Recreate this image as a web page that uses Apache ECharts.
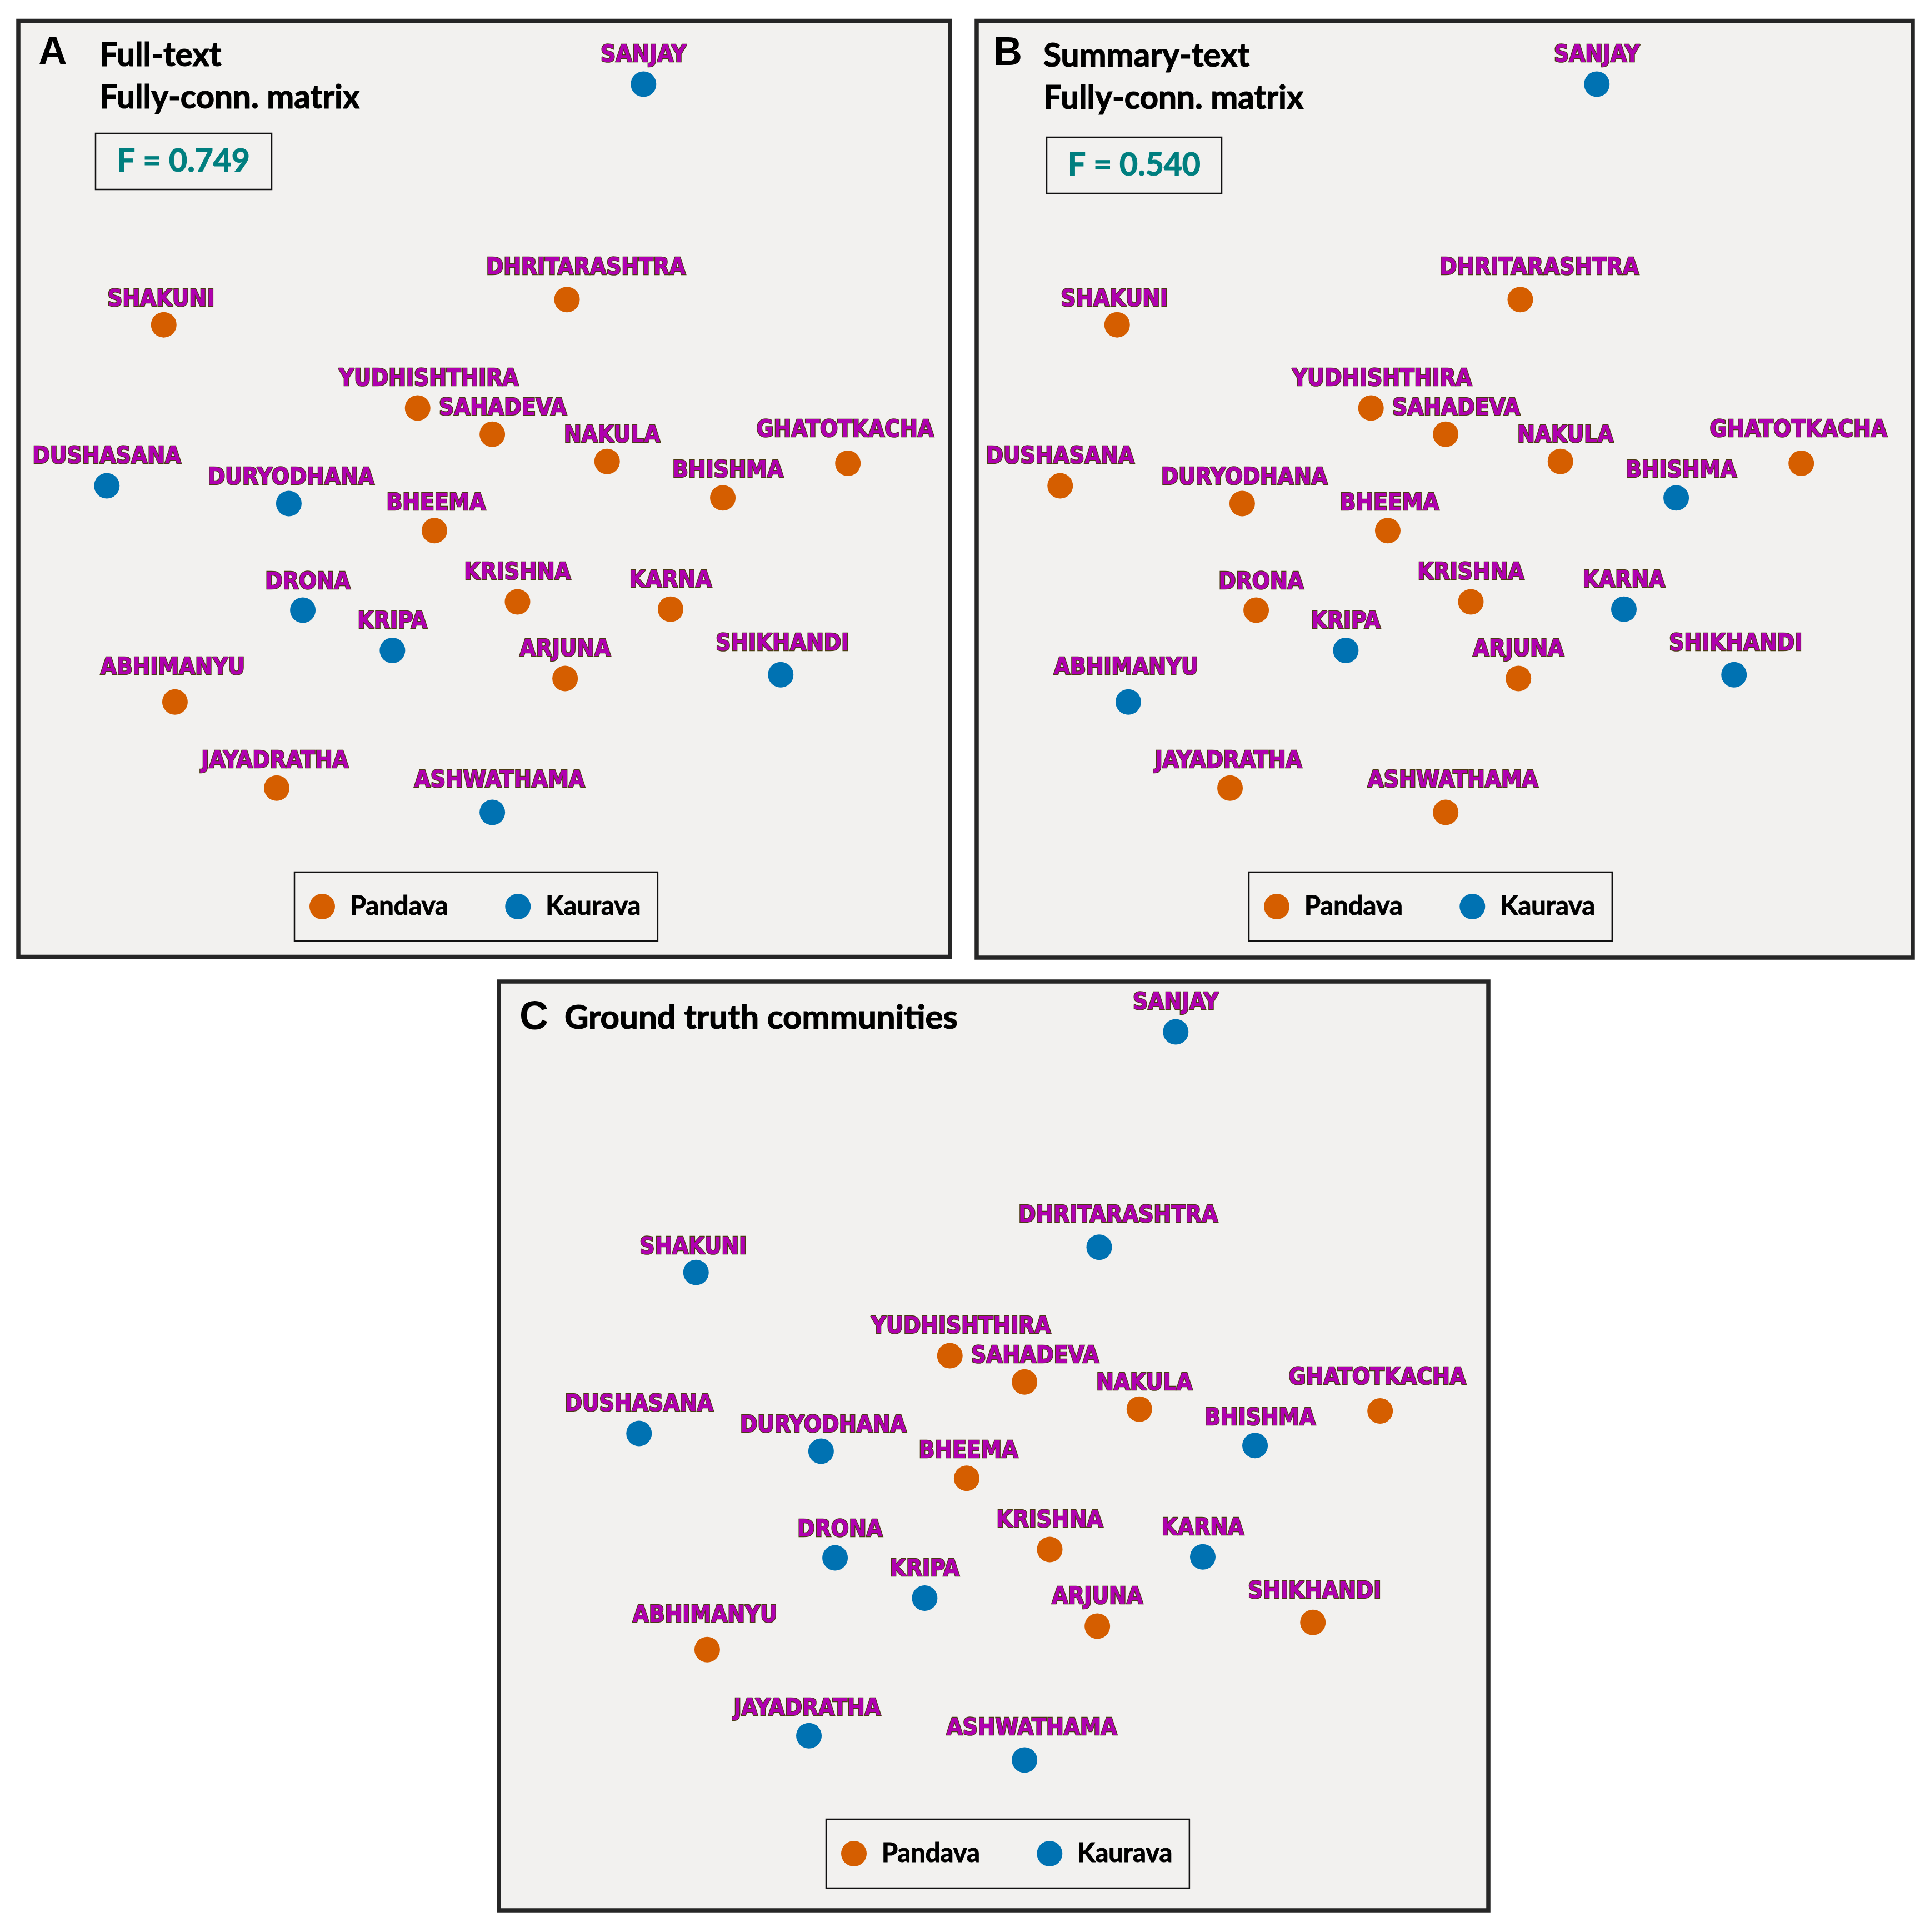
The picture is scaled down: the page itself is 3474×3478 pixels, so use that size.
<!DOCTYPE html>
<html>
<head>
<meta charset="utf-8">
<script src="https://cdn.jsdelivr.net/npm/echarts@6/dist/echarts.min.js"></script>
<style>
html,body{margin:0;padding:0;background:#ffffff;}
#chart{width:3474px;height:3478px;}
</style>
</head>
<body>
<div id="chart"></div>
<script>
// ---- data (embedding coordinates, shared by all panels) ----
const names = ['SANJAY','DHRITARASHTRA','SHAKUNI','YUDHISHTHIRA','SAHADEVA','NAKULA','GHATOTKACHA','DUSHASANA','DURYODHANA','BHISHMA','BHEEMA','DRONA','KRISHNA','KARNA','KRIPA','ARJUNA','SHIKHANDI','ABHIMANYU','JAYADRATHA','ASHWATHAMA'];
const xVals = [67.1,58.9,15.7,42.9,50.9,63.2,89.0,9.6,29.1,75.6,44.7,30.6,53.6,70.0,40.2,58.7,81.8,16.9,27.8,50.9];
const yVals = [93.2,70.2,67.5,58.6,55.8,52.9,52.7,50.3,48.4,49.0,45.5,37.0,37.9,37.1,32.7,29.7,30.1,27.2,18.0,15.4];
// community per node: P = Pandava, K = Kaurava
const commFullText = ['K','P','P','P','P','P','P','K','K','P','P','K','P','P','K','P','K','P','P','K'];
const commSummaryText = ['K','P','P','P','P','P','P','P','P','K','P','P','P','K','K','P','K','K','P','P'];
const commGroundTruth = ['K','K','K','P','P','P','P','K','K','K','P','K','P','K','K','P','P','P','K','K'];
const communityNames = ['Pandava','Kaurava'];
const panelLetters = ['A','B','C'];
const panelTitles = [['Full-text','Fully-conn. matrix'],['Summary-text','Fully-conn. matrix'],['Ground truth communities']];
const fScores = ['0.749','0.540',null];

// ---- layout / style ----
const COLORS = {Pandava:'#D55E00', Kaurava:'#0072B2'};
const FRAME_BG = '#f2f1ef', FRAME_LINE = '#262626';
const LETTER_FONT = "bold 72px 'Liberation Sans', Arial, sans-serif";
const labelNudge = {
  DHRITARASHTRA:[34,-5], SHAKUNI:[-5,6], YUDHISHTHIRA:[20,0], SAHADEVA:[19,5], NAKULA:[9,5],
  GHATOTKACHA:[-5,-8], DURYODHANA:[4,6], BHISHMA:[9,3], DRONA:[9,2], ABHIMANYU:[-4,-10],
  SHIKHANDI:[3,-4], ASHWATHAMA:[13,-5], JAYADRATHA:[-3,3], BHEEMA:[3,3]
};
const panels = [
  {comm:commFullText, grid:{left:31, top:37}, frame:[33,37.5,1677,1685], titleSize:58.5,
   letter:[69,96.5], title:[179,100.5], fbox:[172,240,317,101], legend:[530,1570]},
  {comm:commSummaryText, grid:{left:1747, top:37}, frame:[1758,37.5,1685,1686.5], titleSize:58.5,
   letter:[1788,97], title:[1878,101], fbox:[1884,247,315,101], legend:[2248,1570]},
  {comm:commGroundTruth, grid:{left:989, top:1743}, frame:[898,1767,1781,1672], titleSize:60,
   letter:[935,1833], title:[1016,1833], fbox:null, legend:[1487,3275]}
];
const GRID_W = 1680, GRID_H = 1685;

const grids = [], xAxes = [], yAxes = [], series = [], legends = [], graphics = [];
panels.forEach((p, pi) => {
  const titleFont = "bold " + p.titleSize + "px Lato, 'Open Sans', sans-serif";
  grids.push({left:p.grid.left, top:p.grid.top, width:GRID_W, height:GRID_H, containLabel:false, outerBoundsMode:'none', show:false});
  xAxes.push({gridIndex:pi, type:'value', min:0, max:100, show:false, splitLine:{show:false}});
  yAxes.push({gridIndex:pi, type:'value', min:0, max:100, show:false, splitLine:{show:false}});
  communityNames.forEach(cn => {
    const code = cn[0];
    const data = [];
    names.forEach((n, i) => {
      if (p.comm[i] === code) {
        const nd = labelNudge[n] || [0,0];
        data.push({name:n, value:[xVals[i], yVals[i]], label:{offset:nd}});
      }
    });
    series.push({
      type:'scatter', name:cn, xAxisIndex:pi, yAxisIndex:pi, data:data,
      symbol:'circle', symbolSize:46, itemStyle:{color:COLORS[cn], opacity:1},
      emphasis:{disabled:true}, silent:true, z:3,
      label:{show:true, position:'top', distance:7, formatter:'{b}',
        fontFamily:"'DejaVu Sans Condensed','Liberation Sans',sans-serif", fontWeight:'bold', fontSize:42, lineHeight:42,
        color:'#b000b0', textBorderColor:'#4a3b12', textBorderWidth:2.5}
    });
  });
  legends.push({
    left:p.legend[0], top:p.legend[1], orient:'horizontal', data:communityNames,
    selectedMode:false, icon:'circle', itemWidth:46, itemHeight:46, itemGap:102,
    padding:[38,30,38,27], borderColor:'#111', borderWidth:2.5, backgroundColor:'rgba(0,0,0,0)',
    textStyle:{fontFamily:"Lato, 'Open Sans', sans-serif", fontWeight:'bold', fontSize:47, color:'#000',
      textBorderColor:'#000', textBorderWidth:1, padding:[0,0,0,22]}
  });
  // frame
  graphics.push({type:'rect', z:0, silent:true,
    shape:{x:p.frame[0], y:p.frame[1], width:p.frame[2], height:p.frame[3]},
    style:{fill:FRAME_BG, stroke:FRAME_LINE, lineWidth:7.5}});
  // letter
  graphics.push({type:'text', z:1, silent:true,
    style:{x:p.letter[0], y:p.letter[1], text:panelLetters[pi], font:LETTER_FONT, fill:'#000',
      align:'left', verticalAlign:'middle', textAlign:'left', textVerticalAlign:'middle'}});
  panelTitles[pi].forEach((line, li) => {
    graphics.push({type:'text', z:1, silent:true,
      style:{x:p.title[0], y:p.title[1] + li*76, text:line, font:titleFont, fill:'#000',
        stroke:'#000', lineWidth:1.2,
        align:'left', verticalAlign:'middle', textAlign:'left', textVerticalAlign:'middle'}});
  });
  if (p.fbox && fScores[pi]) {
    graphics.push({type:'rect', z:1, silent:true,
      shape:{x:p.fbox[0], y:p.fbox[1], width:p.fbox[2], height:p.fbox[3]},
      style:{fill:'none', stroke:'#111', lineWidth:2.5}});
    graphics.push({type:'text', z:1, silent:true,
      style:{x:p.fbox[0] + p.fbox[2]/2, y:p.fbox[1] + p.fbox[3]/2, text:'F = ' + fScores[pi], font:"bold 57px Lato, 'Open Sans', sans-serif",
        fill:'#007f7f', stroke:'#007f7f', lineWidth:1.2,
        align:'center', verticalAlign:'middle', textAlign:'center', textVerticalAlign:'middle'}});
  }
});

const chart = echarts.init(document.getElementById('chart'), null, {renderer:'canvas', width:3474, height:3478, devicePixelRatio:1});
chart.setOption({
  backgroundColor:'#ffffff',
  animation:false,
  tooltip:{show:false},
  grid:grids, xAxis:xAxes, yAxis:yAxes,
  legend:legends,
  graphic:{elements:graphics},
  series:series
});
</script>
</body>
</html>
